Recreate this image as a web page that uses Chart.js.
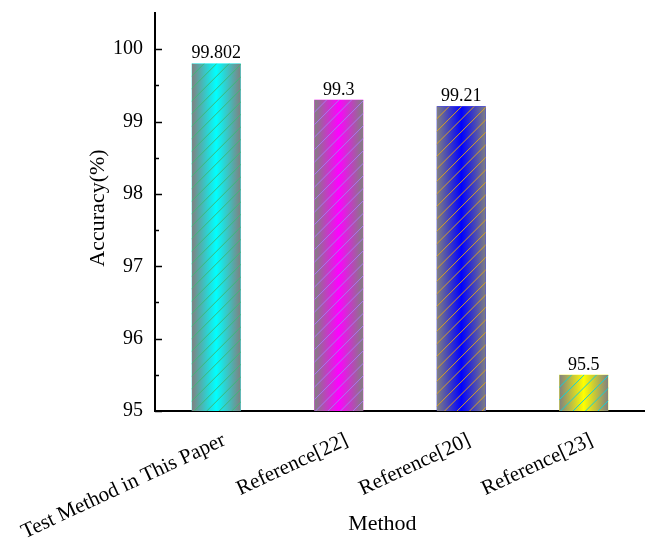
<!DOCTYPE html>
<html>
<head>
<meta charset="utf-8">
<script src="https://cdn.jsdelivr.net/npm/chart.js@4/dist/chart.umd.min.js"></script>
<style>
  html, body { margin: 0; padding: 0; background: #fff; }
  #wrap { width: 645px; height: 542px; }
</style>
</head>
<body>
<div id="wrap"><canvas id="accChart" width="645" height="542"></canvas></div>
<script>
const methods   = ['Test Method in This Paper', 'Reference[22]', 'Reference[20]', 'Reference[23]']
const accuracy  = [99.802, 99.3, 99.21, 95.5]
const yTicks    = [95, 96, 97, 98, 99, 100]
const barColors = ['#00ffff', '#ff00ff', '#0000ff', '#ffff00']
const hatchColors = ['#3cb878', '#a878f0', '#d8a020', '#10d0d8']

const SERIF = '"Liberation Serif", "Times New Roman", serif'

// gradient body + diagonal hatch on each bar, then the value on top
const barStyle = {
  id: 'barStyle',
  afterDatasetsDraw(chart) {
    const ctx = chart.ctx
    const area = chart.chartArea
    const meta = chart.getDatasetMeta(0)
    meta.data.forEach((bar, i) => {
      const { x, y, base, width } = bar.getProps(['x', 'y', 'base', 'width'], true)
      const left = x - width / 2
      const bottom = Math.min(base, area.bottom)
      const top = Math.min(y, bottom), h = bottom - top
      ctx.save()
      ctx.beginPath()
      ctx.rect(left, top, width, h)
      ctx.clip()
      const g = ctx.createLinearGradient(left, 0, left + width, 0)
      g.addColorStop(0, '#808080')
      g.addColorStop(0.5, barColors[i])
      g.addColorStop(1, '#808080')
      ctx.fillStyle = g
      ctx.fillRect(left, top, width, h)
      ctx.strokeStyle = hatchColors[i]
      ctx.lineWidth = 1
      const step = 12.5
      for (let k = -h; k < width + h; k += step) {
        ctx.beginPath()
        ctx.moveTo(left + k, bottom)
        ctx.lineTo(left + k + h, bottom - h)
        ctx.stroke()
      }
      ctx.restore()

      ctx.save()
      ctx.fillStyle = '#000'
      ctx.font = '18px ' + SERIF
      ctx.textAlign = 'center'
      ctx.textBaseline = 'bottom'
      ctx.fillText(String(accuracy[i]), x, y - 1)
      ctx.restore()
    })
  }
}

// inward ticks on the y axis (major every 1, minor every 0.5) and axis titles
const axisDecor = {
  id: 'axisDecor',
  afterDraw(chart) {
    const ctx = chart.ctx
    const ys = chart.scales.y
    const xs = chart.scales.x
    const x0 = chart.chartArea.left
    ctx.save()
    ctx.strokeStyle = '#000'
    ctx.lineWidth = 1.5
    for (let v = ys.min; v < ys.max; v += 0.5) {
      const py = Math.round(ys.getPixelForValue(v)) + 0.5
      const len = Number.isInteger(v) ? 7 : 4
      ctx.beginPath()
      ctx.moveTo(x0, py)
      ctx.lineTo(x0 + len, py)
      ctx.stroke()
    }
    ctx.fillStyle = '#000'
    ctx.font = '22px ' + SERIF
    ctx.textAlign = 'center'
    ctx.textBaseline = 'alphabetic'
    ctx.fillText('Method', xs.left + xs.width * 0.464, 530)
    ctx.translate(104, (chart.chartArea.top + chart.chartArea.bottom) / 2 - 4)
    ctx.rotate(-Math.PI / 2)
    ctx.fillText('Accuracy(%)', 0, 0)
    ctx.restore()
  }
}

new Chart(document.getElementById('accChart'), {
  type: 'bar',
  data: {
    labels: methods,
    datasets: [{
      data: accuracy,
      backgroundColor: barColors,
      borderWidth: 0,
      categoryPercentage: 0.4,
      barPercentage: 1
    }]
  },
  options: {
    responsive: false,
    animation: false,
    layout: { padding: { top: 13, left: 0, right: 0, bottom: 0 } },
    plugins: { legend: { display: false }, tooltip: { enabled: false } },
    scales: {
      y: {
        min: 95, max: 100.5,
        afterFit: s => { s.width = 155; s.paddingTop = 0; s.paddingBottom = 0 },
        afterBuildTicks: s => { s.ticks = yTicks.map(v => ({ value: v })) },
        ticks: { color: '#000', font: { family: SERIF, size: 20 }, padding: 12 },
        grid: { display: false, drawTicks: false },
        border: { color: '#000', width: 2 }
      },
      x: {
        afterFit: s => { s.height = 131; s.paddingLeft = 0; s.paddingRight = 0 },
        ticks: {
          color: '#000', font: { family: SERIF, size: 21 },
          minRotation: 25, maxRotation: 25, padding: 17, labelOffset: 8, autoSkip: false
        },
        grid: { display: false, drawTicks: false },
        border: { color: '#000', width: 2 }
      }
    }
  },
  plugins: [barStyle, axisDecor]
})
</script>
</body>
</html>
